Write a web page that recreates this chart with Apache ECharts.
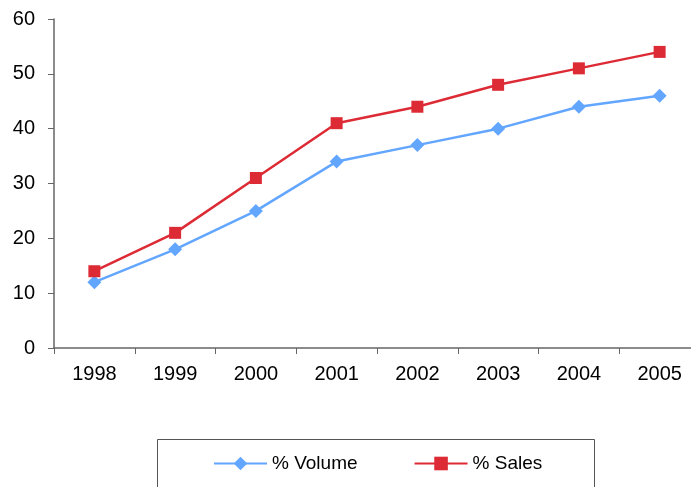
<!DOCTYPE html>
<html>
<head>
<meta charset="utf-8">
<script src="https://cdn.jsdelivr.net/npm/echarts@6/dist/echarts.min.js"></script>
<style>
  html, body { margin: 0; padding: 0; background: #fff; }
  #chart { width: 691px; height: 487px; }
</style>
</head>
<body>
<div id="chart"></div>
<script>
// data
const years = ['1998', '1999', '2000', '2001', '2002', '2003', '2004', '2005'];
const volume = [12, 18, 25, 34, 37, 40, 44, 46];
const sales = [14, 21, 31, 41, 44, 48, 51, 54];

const chart = echarts.init(document.getElementById('chart'), null, { renderer: 'canvas' });

const font = 'Liberation Sans, Arial, sans-serif';

chart.setOption({
  animation: false,
  backgroundColor: '#ffffff',
  // plot runs past the right edge like the original
  grid: { left: 54, width: 646, top: 19, bottom: 139, outerBoundsMode: 'none' },
  // legend frame (runs off the bottom like the original)
  graphic: [{
    type: 'rect',
    shape: { x: 157.5, y: 439.5, width: 437, height: 60 },
    style: { fill: 'none', stroke: '#555', lineWidth: 1 },
    silent: true
  }],
  legend: {
    left: 208,
    top: 449,
    itemWidth: 53,
    itemHeight: 17,
    itemGap: 56,
    textStyle: { fontFamily: font, fontSize: 19, color: '#000' },
    data: ['% Volume', '% Sales']
  },
  xAxis: {
    type: 'category',
    data: years,
    boundaryGap: true,
    axisLine: { lineStyle: { color: '#666', width: 1.5 } },
    axisTick: { show: true, inside: false, length: 6, alignWithLabel: false, lineStyle: { color: '#666' } },
    axisLabel: { color: '#000', fontFamily: font, fontSize: 20, margin: 16 },
    splitLine: { show: false }
  },
  yAxis: {
    type: 'value',
    min: 0,
    max: 60,
    interval: 10,
    axisLine: { show: true, lineStyle: { color: '#666', width: 1.5 } },
    axisTick: { show: true, length: 6, lineStyle: { color: '#666' } },
    axisLabel: { color: '#000', fontFamily: font, fontSize: 20, margin: 19 },
    splitLine: { show: false }
  },
  series: [
    {
      name: '% Volume',
      type: 'line',
      data: volume,
      symbol: 'diamond',
      symbolSize: 14,
      color: '#63A6FF',
      lineStyle: { width: 2.5, color: '#63A6FF' },
      itemStyle: { color: '#63A6FF' }
    },
    {
      name: '% Sales',
      type: 'line',
      data: sales,
      symbol: 'rect',
      symbolSize: 12,
      color: '#DD2B35',
      lineStyle: { width: 2.5, color: '#DD2B35' },
      itemStyle: { color: '#DD2B35' }
    }
  ]
});
</script>
</body>
</html>
